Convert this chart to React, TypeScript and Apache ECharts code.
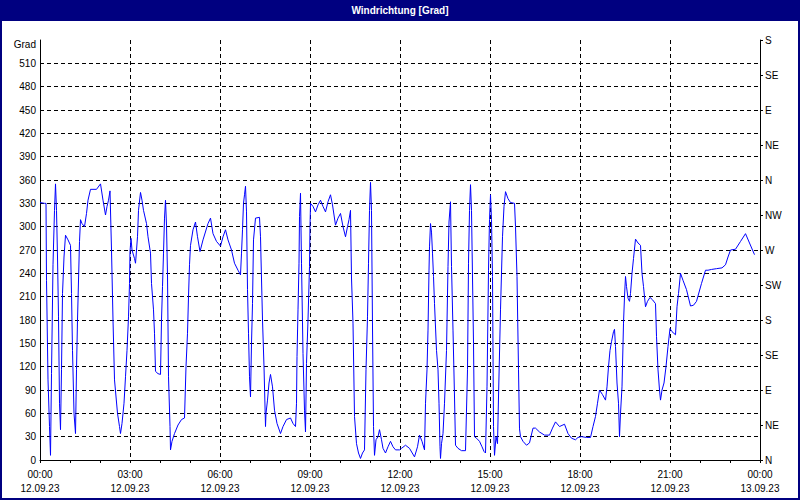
import React, { useEffect, useRef } from "react";
import * as echarts from "echarts";

// minutes since 12.09.23 00:00
const minutes = [
  0, 9, 12, 13, 16, 19, 21, 23, 26, 29, 31, 33, 35, 37, 39, 41, 43, 45, 48, 51, 56, 61, 63, 65, 68, 71, 73, 75, 79, 81, 84, 89, 93, 96, 101, 113, 121, 126, 131, 134, 137, 140, 143, 146, 149, 155, 159, 161, 164, 168, 171, 174, 177, 179, 180, 182, 184, 189, 191, 192, 195, 197, 201, 204, 207, 213, 216, 221, 223, 227, 229, 231, 236, 241,
  243, 245, 247, 249, 251, 253, 255, 257, 260, 261, 264, 269, 276, 283, 289, 292, 295, 297, 299, 301, 306, 311, 315, 320, 326, 336, 341, 346, 353, 361, 366, 371, 376, 383, 389, 396, 401, 403, 405, 407, 409, 411, 413, 415, 417, 419, 421, 423, 425, 427, 431, 439, 441, 445, 448, 451, 452, 455, 458, 461, 465, 469, 474, 481, 486,
  493, 501, 506, 511, 513, 514, 516, 518, 519, 521, 523, 526, 529, 531, 533, 536, 539, 540, 541, 546, 551, 556, 561, 566, 571, 576, 581, 585, 591, 596, 601, 606, 611, 615, 618, 621, 623, 626, 629, 633, 637, 641, 645, 649, 652, 655, 657, 659, 661, 663, 665, 667, 669, 672, 676, 679, 683, 686, 691, 696, 701, 706, 711, 719,
  723, 731, 739, 749, 755, 759, 764, 769, 771, 774, 776, 778, 779, 781, 783, 785, 787, 789, 793, 796, 798, 800, 801, 803, 806, 809, 813, 816, 818, 821, 823, 826, 829, 831, 836, 843, 851, 855, 857, 859, 861, 863, 867, 869, 873, 879, 884, 888, 891, 894, 897, 899, 901, 903, 905, 907, 909, 912, 915, 917, 921, 925, 928, 931, 936, 941, 949, 951, 954, 957, 959, 961, 966,
  973, 979, 986, 991, 999, 1009, 1019, 1025, 1031, 1039, 1049, 1056, 1063, 1071, 1076, 1083, 1093, 1101, 1106, 1111, 1115, 1119, 1125, 1131, 1134, 1137, 1140, 1143, 1147, 1149, 1151, 1154, 1157, 1159, 1161, 1164, 1167, 1169, 1171, 1173, 1176, 1179, 1181, 1184, 1187, 1191, 1196, 1201, 1204,
  1207, 1211, 1215, 1220, 1225, 1231, 1233, 1236, 1239, 1241, 1244, 1248, 1252, 1256, 1260, 1264, 1271, 1274, 1277, 1281, 1286, 1293, 1301, 1307, 1313, 1323, 1331, 1336, 1343, 1353, 1364, 1371, 1376, 1381, 1391, 1401, 1411, 1419, 1429,
];

// wind direction in degrees
const degrees = [
  331, 330, 330, 231, 103, 43, 6, 111, 251, 321, 355, 321, 261, 184, 73, 39, 116, 214, 261, 289, 283, 276, 214, 141, 60, 34, 116, 180, 281, 309, 304, 300, 317, 334, 348, 348, 355, 334, 315, 326, 334, 346, 270, 180, 103, 60, 43, 34, 47, 73, 107, 141, 184, 227, 268, 285, 270, 259, 253, 261, 287, 321, 344, 334, 321, 304, 287, 266, 227, 193, 163, 114, 111, 110,
  180, 223, 266, 311, 334, 302, 238, 107, 43, 13, 24, 34, 45, 52, 54, 120, 163, 210, 251, 276, 296, 306, 287, 268, 283, 304, 311, 291, 281, 275, 287, 296, 283, 270, 253, 244, 238, 266, 296, 330, 341, 352, 319, 219, 163, 107, 81, 150, 201, 283, 311, 312, 287, 180, 120, 43, 60, 77, 99, 110, 94, 64, 47, 34, 43,
  52, 54, 47, 43, 73, 133, 193, 253, 313, 343, 253, 137, 64, 36, 124, 180, 249, 300, 330, 326, 319, 328, 334, 326, 319, 332, 341, 328, 302, 311, 317, 300, 287, 300, 309, 321, 234, 176, 56, 21, 9, 2, 9, 13, 116, 184, 253, 321, 357, 321, 171, 43, 6, 26, 30, 39, 26, 15, 9, 17, 24, 17, 13, 13,
  15, 19, 15, 4, 17, 32, 24, 13, 73, 116, 167, 244, 274, 304, 293, 266, 236, 201, 141, 116, 73, 17, 2, 21, 34, 73, 141, 249, 306, 332, 249, 167, 81, 19, 15, 12, 12, 116, 253, 321, 354, 321, 150, 30, 28, 24, 17, 11, 9, 94, 244, 309, 341, 309, 236, 43, 6, 30, 21, 81, 193, 287, 326, 345, 336, 331, 330, 300, 236, 116, 40, 30, 24,
  19, 22, 41, 41, 36, 32, 32, 41, 49, 43, 46, 34, 28, 26, 29, 30, 29, 29, 43, 56, 73, 90, 84, 77, 94, 120, 141, 152, 165, 168, 146, 99, 73, 30, 60, 94, 176, 210, 236, 223, 208, 204, 214, 240, 259, 284, 279, 276, 240,
  223, 197, 204, 209, 206, 201, 159, 116, 90, 77, 90, 99, 120, 146, 169, 165, 161, 197, 214, 240, 231, 219, 198, 199, 204, 227, 244, 244, 245, 246, 247, 251, 261, 270, 271, 281, 291, 279, 264,
];

const compassLabels = ["N", "NE", "E", "SE", "S", "SW", "W", "NW", "N", "NE", "E", "SE", "S"];
const startDate = "12.09.23";
const endDate = "13.09.23";
const titleText = "Windrichtung [Grad]";
const unitLabel = "Grad";

const FONT = "'Liberation Sans', Arial, sans-serif";

export default function App() {
  const ref = useRef<HTMLDivElement>(null);

  useEffect(() => {
    if (!ref.current) return;
    const chart = echarts.init(ref.current, null, { renderer: "svg" });
    const pad = (n: number) => (n < 10 ? "0" + n : "" + n);
    chart.setOption({
      animation: false,
      backgroundColor: "#ffffff",
      textStyle: { fontFamily: FONT },
      graphic: [
        {
          type: "rect",
          shape: { x: 0, y: 0, width: 800, height: 21 },
          style: { fill: "#000080" },
          silent: true,
        },
        {
          type: "rect",
          shape: { x: 1, y: 1, width: 798, height: 498 },
          style: { fill: null, stroke: "#000080", lineWidth: 2 },
          silent: true,
        },
        {
          type: "text",
          x: 400,
          y: 10.5,
          style: {
            text: titleText,
            fill: "#ffffff",
            font: "bold 10px " + FONT,
            align: "center",
            verticalAlign: "middle",
          },
          silent: true,
        },
      ],
      grid: { left: 40, right: 40, top: 40, bottom: 40, containLabel: false },
      xAxis: {
        type: "value",
        min: 0,
        max: 1440,
        interval: 180,
        axisLine: { show: true, onZero: false, lineStyle: { color: "#000", width: 1 } },
        axisTick: { show: true, length: 3, lineStyle: { color: "#000" } },
        minorTick: { show: true, splitNumber: 3, length: 3, lineStyle: { color: "#000" } },
        splitLine: {
          show: true,
          showMinLine: false,
          showMaxLine: false,
          lineStyle: { color: "#000", type: [4, 3], width: 1 },
        },
        axisLabel: {
          color: "#000",
          fontSize: 10,
          fontFamily: FONT,
          margin: 7,
          lineHeight: 14,
          showMinLabel: true,
          showMaxLabel: true,
          formatter: (v: number) => {
            const h = Math.floor(v / 60) % 24;
            const m = v % 60;
            return pad(h) + ":" + pad(m) + "\n" + (v >= 1440 ? endDate : startDate);
          },
        },
      },
      yAxis: [
        {
          type: "value",
          min: 0,
          max: 540,
          interval: 30,
          position: "left",
          axisLine: { show: true, onZero: false, lineStyle: { color: "#000", width: 1 } },
          axisTick: { show: false },
          splitLine: {
            show: true,
            showMinLine: false,
            showMaxLine: false,
            lineStyle: { color: "#000", type: [4, 3], width: 1 },
          },
          axisLabel: {
            color: "#000",
            fontSize: 10,
            fontFamily: FONT,
            margin: 4,
            showMaxLabel: true,
            formatter: (v: number) => (v === 540 ? "{g|" + unitLabel + "}" : String(v)),
            rich: { g: { color: "#000", fontSize: 10, fontFamily: FONT, padding: [8, 0, 0, 0] } },
          },
        },
        {
          type: "value",
          min: 0,
          max: 540,
          interval: 45,
          position: "right",
          axisLine: { show: true, onZero: false, lineStyle: { color: "#000", width: 1 } },
          axisTick: { show: true, length: 3, lineStyle: { color: "#000" } },
          splitLine: { show: false },
          axisLabel: {
            color: "#000",
            fontSize: 10,
            fontFamily: FONT,
            margin: 5,
            showMaxLabel: true,
            formatter: (v: number) => compassLabels[Math.round(v / 45)] ?? "",
          },
        },
      ],
      series: [
        {
          type: "line",
          yAxisIndex: 0,
          data: minutes.map((m, i) => [m, degrees[i]]),
          showSymbol: false,
          symbol: "none",
          lineStyle: { color: "#0000ff", width: 1 },
          itemStyle: { color: "#0000ff" },
          clip: true,
        },
      ],
    });
    return () => chart.dispose();
  }, []);

  return (
    <div
      ref={ref}
      style={{ position: "absolute", left: 0, top: 0, width: 800, height: 500 }}
    />
  );
}
